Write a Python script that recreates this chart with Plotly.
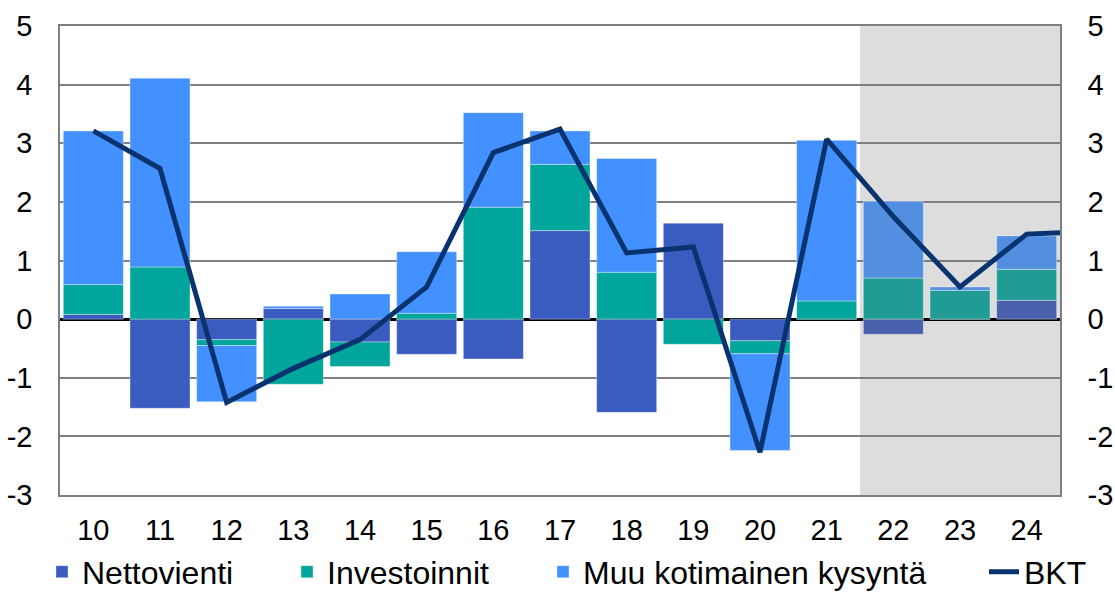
import plotly.graph_objects as go

years = ["10", "11", "12", "13", "14", "15", "16", "17", "18", "19", "20", "21", "22", "23", "24"]
nettovienti = [0.08, -1.52, -0.35, 0.18, -0.39, -0.60, -0.68, 1.51, -1.59, 1.64, -0.37, 0.00, -0.26, 0.00, 0.32]
investoinnit = [0.51, 0.89, -0.10, -1.11, -0.42, 0.10, 1.91, 1.13, 0.80, -0.43, -0.22, 0.31, 0.70, 0.49, 0.53]
muu_kotimainen = [2.62, 3.22, -0.96, 0.04, 0.43, 1.05, 1.61, 0.57, 1.94, 0.00, -1.65, 2.74, 1.31, 0.06, 0.57]
bkt = [3.21, 2.57, -1.42, -0.84, -0.35, 0.55, 2.84, 3.24, 1.13, 1.23, -2.27, 3.07, 1.75, 0.55, 1.45]
bkt_next_year = "25"
bkt_next_value = 1.5
forecast_years = ["22", "23", "24"]
y_ticks = [-3, -2, -1, 0, 1, 2, 3, 4, 5]
y_ticklabels = ["-3", "-2", "-1", "0", "1", "2", "3", "4", "5"]

C_N, C_I, C_M = "#3A5BBF", "#00A59B", "#4391FF"
F_N, F_I, F_M = "#4961AD", "#219C94", "#528FE0"


def cols(base, fc):
    return [fc if y in forecast_years else base for y in years]


fig = go.Figure()
bar_line = dict(width=0.6, color="rgba(255,255,255,0.6)")
fig.add_trace(go.Bar(x=years, y=nettovienti, name="Nettovienti", legend="legend",
                     marker=dict(color=cols(C_N, F_N), line=bar_line)))
fig.add_trace(go.Bar(x=years, y=investoinnit, name="Investoinnit", legend="legend2",
                     marker=dict(color=cols(C_I, F_I), line=bar_line)))
fig.add_trace(go.Bar(x=years, y=muu_kotimainen, name="Muu kotimainen kysyntä", legend="legend3",
                     marker=dict(color=cols(C_M, F_M), line=bar_line)))
fig.add_trace(go.Scatter(x=years + [bkt_next_year], y=bkt + [bkt_next_value], name="BKT",
                         legend="legend4",
                         mode="lines", line=dict(color="#08336E", width=5)))
# invisible trace for right axis
fig.add_trace(go.Scatter(x=years, y=bkt, yaxis="y2", mode="lines",
                         line=dict(width=0), showlegend=False, hoverinfo="skip",
                         opacity=0))

fig.add_shape(type="rect", xref="x", yref="paper", x0=11.5, x1=14.5, y0=0, y1=1,
              fillcolor="#DDDDDD", line=dict(width=0), layer="below")

font = "Liberation Sans, Arial, sans-serif"
yax = dict(range=[-3, 5], tickmode="array", tickvals=y_ticks, ticktext=y_ticklabels,
           showline=True, linecolor="#7f7f7f", linewidth=1.5, automargin=False,
           ticks="", tickfont=dict(size=29), ticklabelstandoff=20)


def leg(px):
    return dict(orientation="h", xref="container", x=px / 1115, xanchor="left",
                yref="container", y=0.034, yanchor="middle",
                font=dict(size=32), itemwidth=30, bgcolor="rgba(0,0,0,0)")


fig.update_layout(
    width=1115, height=592,
    margin=dict(l=60, r=55, t=26, b=97, autoexpand=False),
    barmode="relative", bargap=0.1,
    plot_bgcolor="white", paper_bgcolor="white",
    font=dict(family=font, size=29, color="black"),
    xaxis=dict(type="category", categoryorder="array", categoryarray=years + [bkt_next_year],
               range=[-0.5, 14.5], showgrid=False, ticks="", showline=True,
               linecolor="#7f7f7f", linewidth=1.5, mirror=True, automargin=False,
               tickfont=dict(size=29), ticklabelstandoff=8),
    yaxis=dict(**yax, showgrid=True, gridcolor="#7f7f7f", gridwidth=1.5,
               zeroline=True, zerolinecolor="black", zerolinewidth=2.5),
    yaxis2=dict(**yax, overlaying="y", side="right", showgrid=False, zeroline=False),
    legend=leg(42), legend2=leg(287), legend3=leg(543), legend4=leg(984),
    showlegend=True,
)

fig.write_html("out.html", config={"displayModeBar": False},
               post_script="document.body.style.margin='0';")
